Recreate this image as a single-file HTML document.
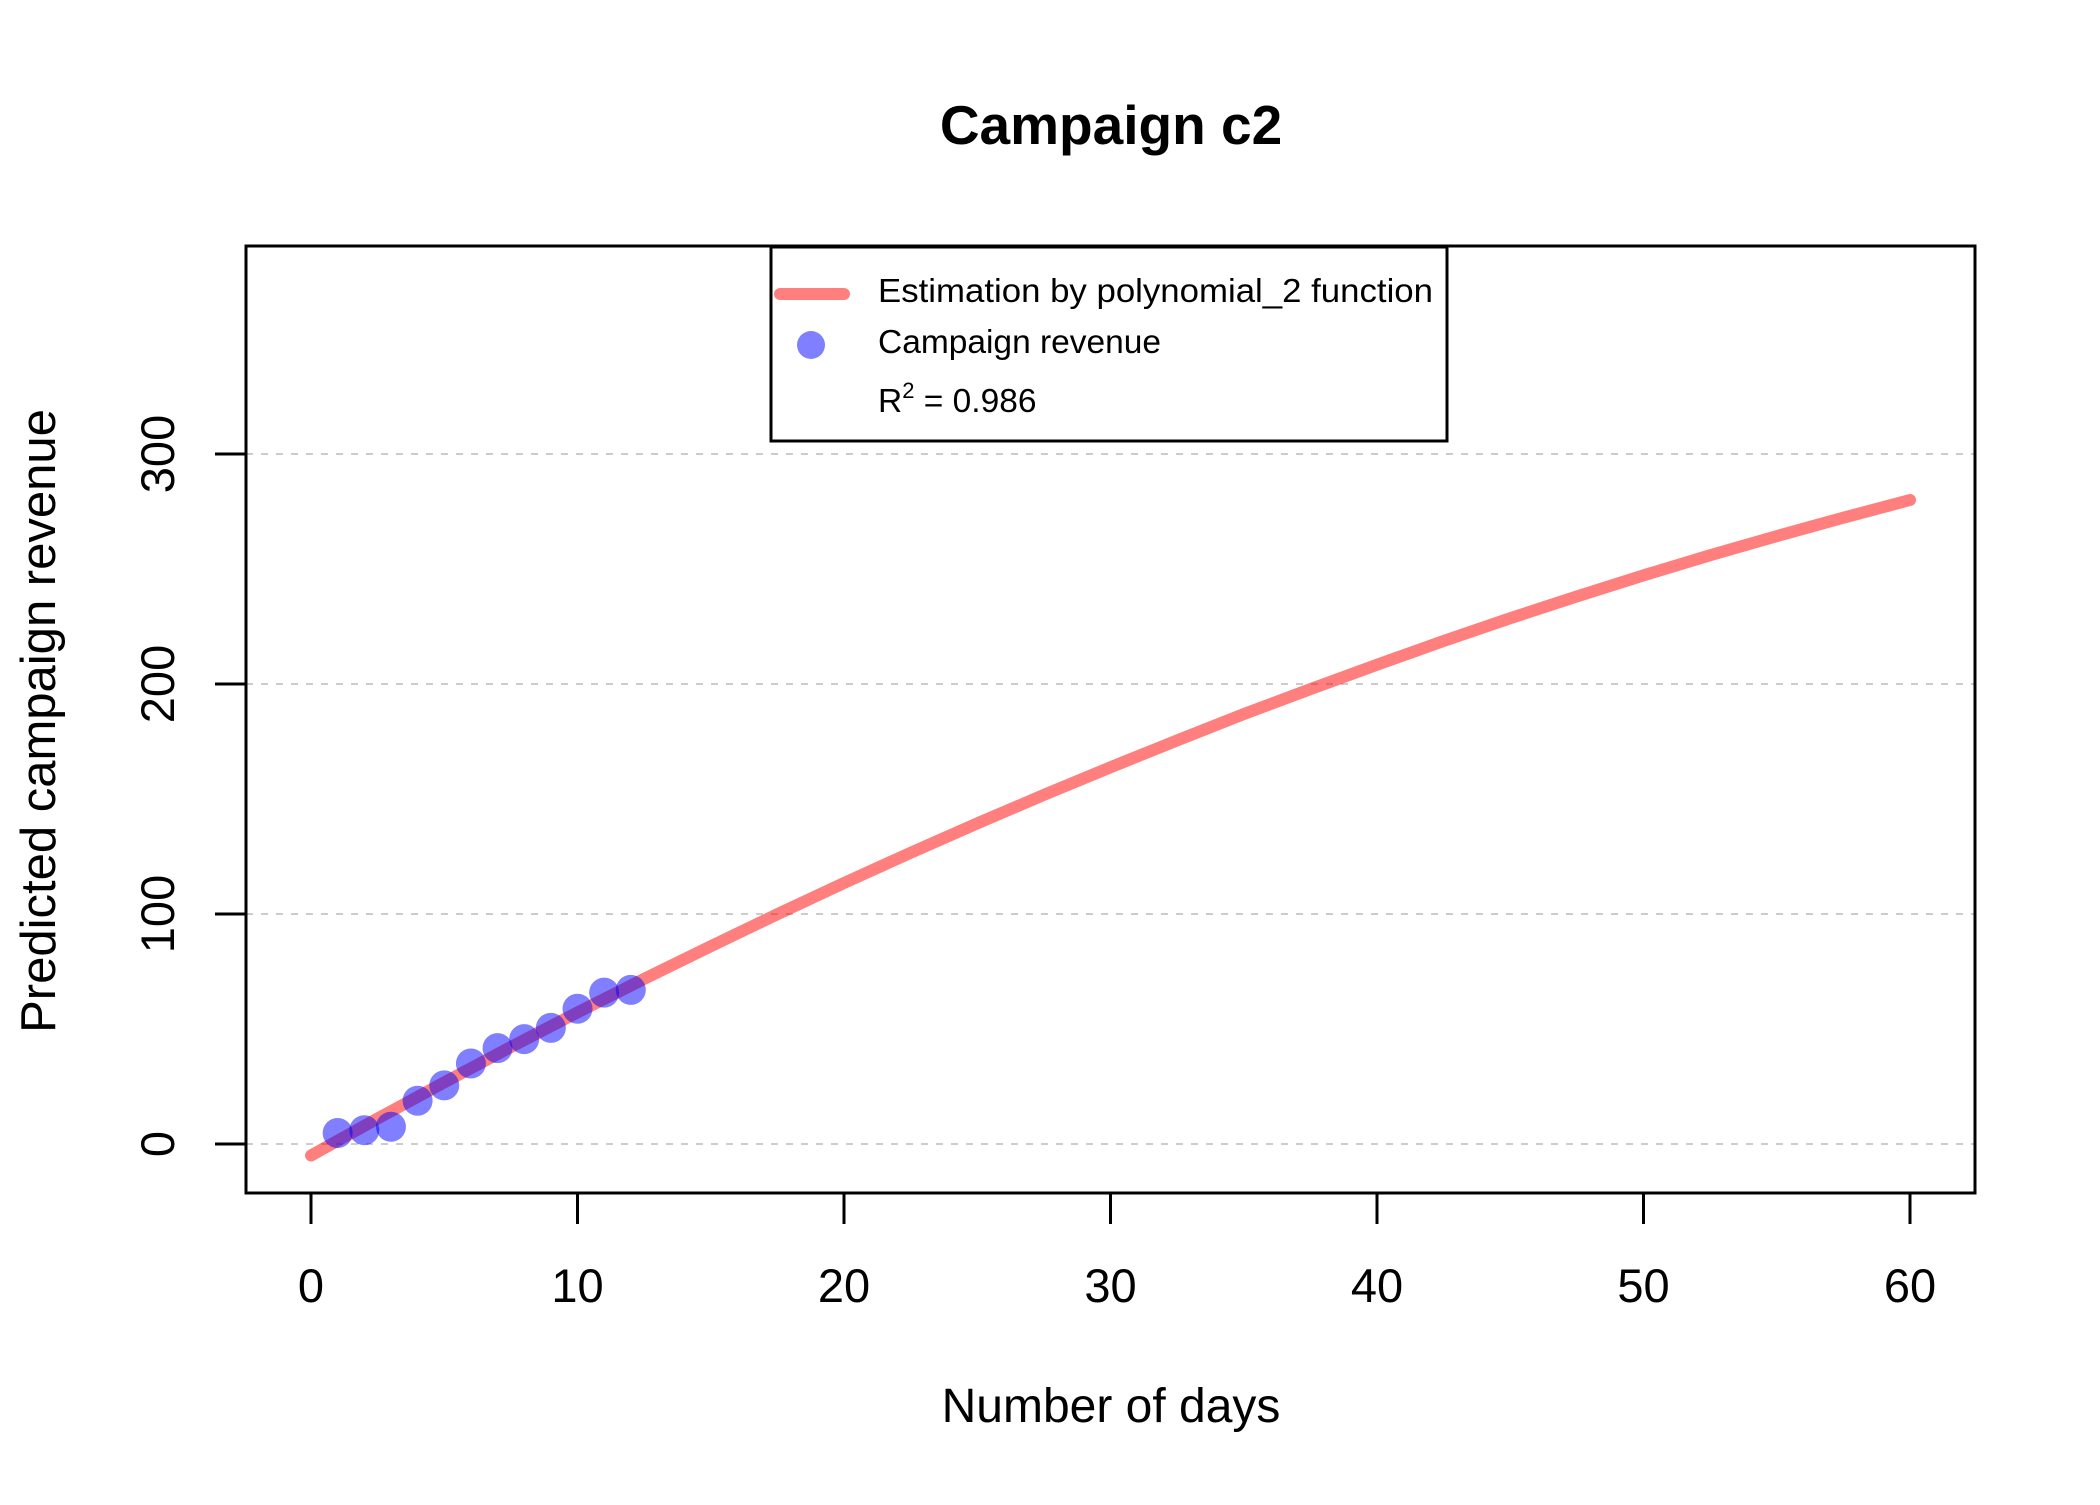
<!DOCTYPE html>
<html><head><meta charset="utf-8"><style>
html,body{margin:0;padding:0;background:#fff;}
svg text{font-family:"Liberation Sans",Arial,sans-serif;fill:#000;}
</style></head><body>
<svg id="chart" width="2100" height="1500" viewBox="0 0 2100 1500" xmlns="http://www.w3.org/2000/svg">
<rect x="0" y="0" width="2100" height="1500" fill="#fff"/>
<text x="1111" y="144" font-size="55" font-weight="bold" text-anchor="middle">Campaign c2</text>
<g id="grid"></g>
<g id="curve"></g>
<g id="points"></g>
<rect x="246" y="246" width="1729" height="947" fill="none" stroke="#000" stroke-width="3"/>
<g id="xaxis"></g>
<g id="yaxis"></g>
<text x="1111" y="1422" font-size="48" text-anchor="middle">Number of days</text>
<text transform="translate(55,721) rotate(-90)" font-size="49" text-anchor="middle">Predicted campaign revenue</text>
<g>
<rect x="771" y="247" width="676" height="194" fill="#fff" stroke="#000" stroke-width="3"/>
<line x1="780" y1="294" x2="844" y2="294" stroke="rgba(255,0,0,0.5)" stroke-width="12" stroke-linecap="round"/>
<text x="878" y="302" font-size="33.5" textLength="555" lengthAdjust="spacingAndGlyphs">Estimation by polynomial_2 function</text>
<circle cx="811" cy="345" r="14" fill="rgba(0,0,255,0.5)"/>
<text x="878" y="353" font-size="33.5">Campaign revenue</text>
<text x="878" y="412" font-size="33.5">R<tspan dy="-14" font-size="22">2</tspan><tspan dy="14"> = 0.986</tspan></text>
</g>
</svg>
<script>
const xTicks = [0, 10, 20, 30, 40, 50, 60];
const yTicks = [0, 100, 200, 300];
const curveX = [0, 2.5, 5, 7.5, 10, 12.5, 15, 17.5, 20, 22.5, 25, 27.5, 30, 32.5, 35, 37.5, 40, 42.5, 45, 47.5, 50, 52.5, 55, 57.5, 60];
const curveY = [-5, 11.1, 26.8, 42.2, 57.2, 71.8, 86, 99.9, 113.5, 126.6, 139.4, 151.8, 163.8, 175.5, 186.9, 197.8, 208.4, 218.7, 228.6, 238.1, 247.2, 256.0, 264.3, 272.3, 280];
const pointX = [1, 2, 3, 4, 5, 6, 7, 8, 9, 10, 11, 12];
const pointY = [4.8, 6, 7.5, 18.8, 25.5, 35, 41.7, 45.6, 50.5, 58.8, 65.8, 67];

const NS = "http://www.w3.org/2000/svg";
function sx(v){ return 311 + v * 26.65; }
function sy(v){ return 1144 - v * 2.3; }
function mk(tag, attrs, parent){
  const e = document.createElementNS(NS, tag);
  for (const k in attrs) e.setAttribute(k, attrs[k]);
  parent.appendChild(e);
  return e;
}
const grid = document.getElementById('grid');
const xa = document.getElementById('xaxis');
const ya = document.getElementById('yaxis');
yTicks.forEach(function(t){
  const g = mk('line', {x1:246, x2:1975, y1:sy(t), y2:sy(t), stroke:'#cccccc', 'stroke-width':2, 'stroke-dasharray':'7,8'}, grid);
  
  
  const tk = mk('line', {x1:215, x2:246, y1:sy(t), y2:sy(t), stroke:'#000', 'stroke-width':3}, ya);
  
  
  const tx = mk('text', {transform:'translate(174,' + sy(t) + ') rotate(-90)', 'font-size':47, 'text-anchor':'middle'}, ya);
  tx.textContent = t;
  
  
});
xTicks.forEach(function(t){
  const tk = mk('line', {x1:sx(t), x2:sx(t), y1:1193, y2:1224, stroke:'#000', 'stroke-width':3}, xa);
  
  
  const tx = mk('text', {x:sx(t), y:1302, 'font-size':47, 'text-anchor':'middle'}, xa);
  tx.textContent = t;
  
  
});
const pts = curveX.map(function(v,i){ return sx(v).toFixed(1) + ',' + sy(curveY[i]).toFixed(1); }).join(' ');
const pl = mk('polyline', {points:pts, fill:'none', stroke:'rgba(255,0,0,0.5)', 'stroke-width':12, 'stroke-linecap':'round', 'stroke-linejoin':'round'}, document.getElementById('curve'));


const pg = document.getElementById('points');
pointX.forEach(function(v,i){
  const c = mk('circle', {cx:sx(v), cy:sy(pointY[i]), r:15, fill:'rgba(0,0,255,0.5)'}, pg);
  
  
});
</script>
</body></html>
